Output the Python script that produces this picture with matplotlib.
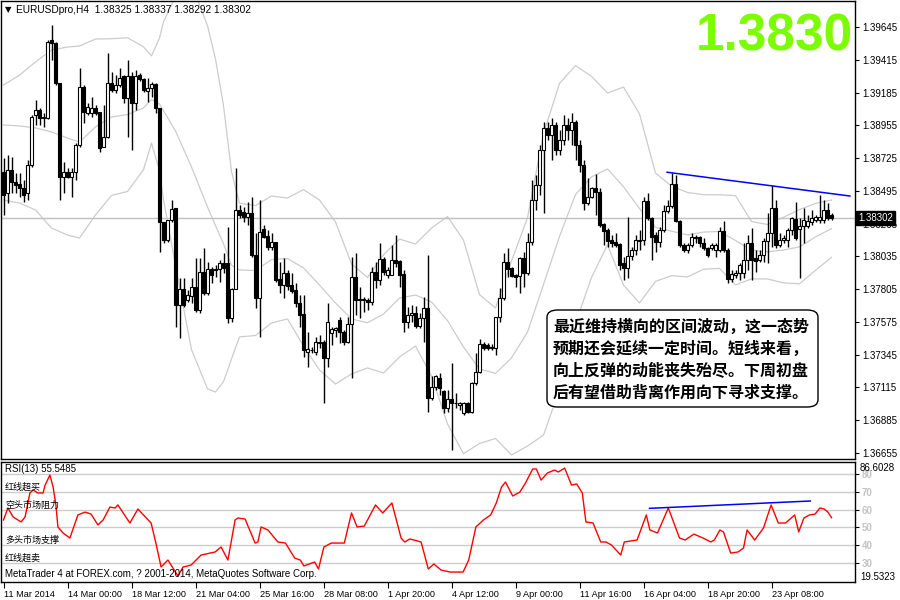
import numpy as np
import matplotlib.pyplot as plt
from matplotlib.patches import FancyBboxPatch
import matplotlib.transforms as mtransforms

# EURUSD H4 candles
opens = [1.38628, 1.38480, 1.38642, 1.38557, 1.38543, 1.38515, 1.38480, 1.38677,
         1.39028, 1.39063, 1.39007, 1.39007, 1.39554, 1.39533, 1.39252, 1.38593,
         1.38628, 1.38593, 1.38628, 1.38817, 1.39224, 1.39042, 1.39042, 1.39077,
         1.39049, 1.38803, 1.38873, 1.39252, 1.39203, 1.39238, 1.39302, 1.39147,
         1.39302, 1.39112, 1.39309, 1.39281, 1.39196, 1.39217, 1.39245, 1.39077,
         1.38277, 1.38150, 1.38291, 1.38375, 1.37694, 1.37806, 1.37729, 1.37757,
         1.37820, 1.37659, 1.37926, 1.37778, 1.37947, 1.37940, 1.37947, 1.37989,
         1.37989, 1.37603, 1.37806, 1.38361, 1.38347, 1.38312, 1.38340, 1.38045,
         1.37743, 1.38228, 1.38178, 1.38101, 1.38136, 1.37877, 1.37834, 1.37919,
         1.37834, 1.37799, 1.37708, 1.37631, 1.37364, 1.37378, 1.37364, 1.37427,
         1.37434, 1.37322, 1.37497, 1.37518, 1.37589, 1.37504, 1.37434, 1.37561,
         1.37891, 1.37736, 1.37729, 1.37729, 1.37715, 1.37926, 1.37869, 1.38017,
         1.37905, 1.37905, 1.38010, 1.38003, 1.37912, 1.37575, 1.37624, 1.37638,
         1.37547, 1.37603, 1.37673, 1.37041, 1.37118, 1.37182, 1.37090, 1.36971,
         1.37034, 1.37006, 1.36992, 1.36936, 1.37006, 1.36943, 1.37146, 1.37224,
         1.37420, 1.37413, 1.37399, 1.37392, 1.37610, 1.37743, 1.37996, 1.37954,
         1.37905, 1.37898, 1.38024, 1.37919, 1.38136, 1.38431, 1.38536, 1.38782,
         1.38937, 1.38887, 1.38958, 1.38782, 1.38852, 1.38958, 1.38922, 1.38979,
         1.38817, 1.38677, 1.38410, 1.38452, 1.38515, 1.38487, 1.38263, 1.38220,
         1.38150, 1.38136, 1.38122, 1.37989, 1.37954, 1.38038, 1.38080, 1.38143,
         1.38150, 1.38424, 1.38305, 1.38185, 1.38136, 1.38220, 1.38354, 1.38389,
         1.38543, 1.38284, 1.38115, 1.38080, 1.38115, 1.38164, 1.38171, 1.38129,
         1.38094, 1.38094, 1.38080, 1.38080, 1.38213, 1.38080, 1.37877, 1.37905,
         1.37919, 1.37919, 1.38010, 1.38129, 1.38024, 1.38010, 1.38045, 1.38143,
         1.38199, 1.38375, 1.38115, 1.38150, 1.38150, 1.38220, 1.38298, 1.38228,
         1.38249, 1.38249, 1.38277, 1.38291, 1.38291, 1.38291, 1.38361, 1.38325]
highs = [1.38726, 1.38747, 1.38733, 1.38621, 1.38621, 1.38571, 1.38712, 1.39028,
         1.39133, 1.39077, 1.39042, 1.39554, 1.39660, 1.39540, 1.39252, 1.38698,
         1.38656, 1.38656, 1.38831, 1.39358, 1.39238, 1.39112, 1.39154, 1.39098,
         1.39049, 1.39098, 1.39463, 1.39330, 1.39309, 1.39358, 1.39309, 1.39414,
         1.39330, 1.39344, 1.39323, 1.39288, 1.39288, 1.39259, 1.39252, 1.39077,
         1.38277, 1.38291, 1.38431, 1.38375, 1.37884, 1.37884, 1.37799, 1.37884,
         1.38024, 1.38024, 1.38094, 1.37996, 1.37961, 1.37975, 1.38010, 1.38059,
         1.38242, 1.37813, 1.38656, 1.38396, 1.38382, 1.38417, 1.38452, 1.38199,
         1.38431, 1.38256, 1.38220, 1.38199, 1.38136, 1.37996, 1.38024, 1.37940,
         1.37919, 1.37848, 1.37764, 1.37764, 1.37504, 1.37399, 1.37469, 1.37483,
         1.37448, 1.37708, 1.37540, 1.37540, 1.37610, 1.37518, 1.37610, 1.38031,
         1.38059, 1.37820, 1.37750, 1.37743, 1.37961, 1.37996, 1.38129, 1.38031,
         1.37961, 1.38115, 1.38185, 1.38010, 1.37940, 1.37680, 1.37694, 1.37687,
         1.37638, 1.37750, 1.38045, 1.37196, 1.37203, 1.37217, 1.37097, 1.37097,
         1.37287, 1.37076, 1.37013, 1.37013, 1.37013, 1.37153, 1.37357, 1.37455,
         1.37434, 1.37427, 1.37420, 1.37610, 1.37813, 1.38059, 1.38094, 1.37961,
         1.37912, 1.38031, 1.38066, 1.38199, 1.38571, 1.38607, 1.38817, 1.38979,
         1.38979, 1.39007, 1.38979, 1.38922, 1.39028, 1.39007, 1.39042, 1.38993,
         1.38852, 1.38712, 1.38586, 1.38522, 1.38614, 1.38515, 1.38270, 1.38235,
         1.38185, 1.38199, 1.38129, 1.38031, 1.38312, 1.38101, 1.38185, 1.38220,
         1.38452, 1.38480, 1.38312, 1.38206, 1.38242, 1.38396, 1.38431, 1.38621,
         1.38607, 1.38291, 1.38129, 1.38129, 1.38199, 1.38185, 1.38178, 1.38164,
         1.38101, 1.38129, 1.38129, 1.38242, 1.38284, 1.38094, 1.37940, 1.37940,
         1.37989, 1.38129, 1.38185, 1.38235, 1.38080, 1.38080, 1.38164, 1.38340,
         1.38536, 1.38431, 1.38199, 1.38185, 1.38235, 1.38312, 1.38417, 1.38305,
         1.38375, 1.38326, 1.38361, 1.38326, 1.38466, 1.38431, 1.38410, 1.38337]
lows = [1.38326, 1.38410, 1.38480, 1.38480, 1.38452, 1.38417, 1.38431, 1.38663,
        1.38958, 1.38958, 1.38944, 1.39000, 1.39414, 1.39238, 1.38431, 1.38480,
        1.38586, 1.38452, 1.38571, 1.38803, 1.38972, 1.39028, 1.39014, 1.39028,
        1.38768, 1.38803, 1.38866, 1.39189, 1.39182, 1.39224, 1.39112, 1.38873,
        1.38782, 1.39063, 1.39266, 1.39189, 1.39119, 1.39154, 1.39042, 1.38066,
        1.38129, 1.38136, 1.38277, 1.37540, 1.37462, 1.37680, 1.37715, 1.37708,
        1.37645, 1.37638, 1.37764, 1.37764, 1.37848, 1.37891, 1.37855, 1.37919,
        1.37568, 1.37575, 1.37806, 1.38305, 1.38277, 1.38256, 1.38031, 1.37673,
        1.37469, 1.38164, 1.38080, 1.38080, 1.37855, 1.37778, 1.37743, 1.37799,
        1.37778, 1.37680, 1.37540, 1.37329, 1.37259, 1.37357, 1.37343, 1.37392,
        1.37006, 1.37259, 1.37413, 1.37469, 1.37427, 1.37413, 1.37427, 1.37182,
        1.37624, 1.37603, 1.37645, 1.37659, 1.37694, 1.37813, 1.37834, 1.37905,
        1.37884, 1.37905, 1.37961, 1.37820, 1.37504, 1.37533, 1.37575, 1.37533,
        1.37533, 1.37434, 1.36943, 1.37027, 1.37097, 1.37062, 1.36936, 1.36943,
        1.36676, 1.36971, 1.36957, 1.36922, 1.36936, 1.36936, 1.37132, 1.37217,
        1.37378, 1.37378, 1.37378, 1.37343, 1.37575, 1.37729, 1.37891, 1.37891,
        1.37820, 1.37778, 1.37820, 1.37905, 1.38115, 1.38361, 1.38466, 1.38340,
        1.38852, 1.38712, 1.38747, 1.38747, 1.38817, 1.38852, 1.38817, 1.38712,
        1.38628, 1.38361, 1.38396, 1.38445, 1.38326, 1.38242, 1.38115, 1.38101,
        1.38101, 1.38101, 1.37940, 1.37869, 1.37884, 1.38010, 1.38045, 1.38080,
        1.38115, 1.38291, 1.38010, 1.38066, 1.38101, 1.38206, 1.38340, 1.38375,
        1.38277, 1.38101, 1.38066, 1.38059, 1.38101, 1.38129, 1.38101, 1.38080,
        1.38031, 1.38080, 1.38031, 1.38066, 1.38066, 1.37848, 1.37855, 1.37884,
        1.37869, 1.37884, 1.37940, 1.37869, 1.37926, 1.37996, 1.37996, 1.37989,
        1.38101, 1.38094, 1.38101, 1.38129, 1.38101, 1.38185, 1.38150, 1.37884,
        1.38129, 1.38235, 1.38256, 1.38277, 1.38270, 1.38270, 1.38291, 1.38292]
closes = [1.38466, 1.38642, 1.38557, 1.38536, 1.38515, 1.38466, 1.38677, 1.39014,
          1.39063, 1.39007, 1.39014, 1.39540, 1.39533, 1.39252, 1.38593, 1.38628,
          1.38593, 1.38628, 1.38817, 1.39224, 1.39049, 1.39084, 1.39077, 1.39042,
          1.38796, 1.38873, 1.39252, 1.39203, 1.39238, 1.39288, 1.39147, 1.39302,
          1.39112, 1.39302, 1.39281, 1.39203, 1.39217, 1.39245, 1.39077, 1.38277,
          1.38150, 1.38291, 1.38368, 1.37694, 1.37806, 1.37694, 1.37764, 1.37820,
          1.37659, 1.37926, 1.37778, 1.37947, 1.37905, 1.37947, 1.37989, 1.37954,
          1.37603, 1.37806, 1.38361, 1.38326, 1.38312, 1.38340, 1.38045, 1.37743,
          1.38206, 1.38171, 1.38101, 1.38136, 1.37869, 1.37834, 1.37919, 1.37827,
          1.37792, 1.37708, 1.37624, 1.37378, 1.37385, 1.37378, 1.37434, 1.37434,
          1.37322, 1.37575, 1.37526, 1.37533, 1.37504, 1.37434, 1.37561, 1.37891,
          1.37729, 1.37729, 1.37736, 1.37715, 1.37926, 1.37869, 1.38017, 1.37926,
          1.37940, 1.38010, 1.37989, 1.37905, 1.37575, 1.37624, 1.37638, 1.37547,
          1.37603, 1.37673, 1.37041, 1.37118, 1.37196, 1.37111, 1.36971, 1.37034,
          1.37006, 1.37006, 1.37006, 1.37006, 1.36943, 1.37146, 1.37224, 1.37420,
          1.37392, 1.37392, 1.37392, 1.37610, 1.37743, 1.37996, 1.37947, 1.37898,
          1.37891, 1.38024, 1.37919, 1.38136, 1.38431, 1.38536, 1.38782, 1.38937,
          1.38887, 1.38958, 1.38782, 1.38852, 1.38958, 1.38922, 1.38979, 1.38817,
          1.38677, 1.38410, 1.38452, 1.38515, 1.38487, 1.38256, 1.38213, 1.38143,
          1.38129, 1.38115, 1.37975, 1.37954, 1.38038, 1.38080, 1.38150, 1.38150,
          1.38424, 1.38305, 1.38171, 1.38136, 1.38220, 1.38354, 1.38389, 1.38543,
          1.38284, 1.38115, 1.38080, 1.38115, 1.38171, 1.38171, 1.38129, 1.38094,
          1.38045, 1.38115, 1.38115, 1.38213, 1.38080, 1.37877, 1.37912, 1.37919,
          1.37975, 1.38010, 1.38129, 1.38010, 1.38003, 1.38045, 1.38143, 1.38199,
          1.38375, 1.38115, 1.38150, 1.38164, 1.38220, 1.38305, 1.38164, 1.38249,
          1.38291, 1.38284, 1.38305, 1.38312, 1.38312, 1.38361, 1.38305, 1.38302]

# bollinger bands (20, 2), read at these bars
bb_pos = [0, 4, 8, 12, 16, 19, 23, 27, 31, 35, 37, 39, 40, 43, 47, 51, 53, 55, 57,
          59, 63, 67, 71, 75, 79, 83, 87, 91, 95, 99, 103, 107, 111, 115, 119, 123,
          127, 131, 135, 139, 143, 147, 151, 155, 159, 163, 167, 171, 175, 179, 183,
          187, 191, 195, 199, 203, 207]
bb_up = [1.39238, 1.39308, 1.39400, 1.39484, 1.39505, 1.39512, 1.39561, 1.39563,
         1.39570, 1.39506, 1.39443, 1.39568, 1.39682, 1.39860, 1.39947, 1.39655,
         1.39421, 1.39094, 1.38630, 1.38408, 1.38392, 1.38459, 1.38445, 1.38504,
         1.38431, 1.38277, 1.37982, 1.37887, 1.38047, 1.38157, 1.38122, 1.38234,
         1.38315, 1.38150, 1.37767, 1.37673, 1.38002, 1.38306, 1.38896, 1.39249,
         1.39375, 1.39299, 1.39182, 1.39224, 1.39035, 1.38620, 1.38529, 1.38484,
         1.38468, 1.38468, 1.38462, 1.38280, 1.38259, 1.38310, 1.38364, 1.38407,
         1.38431]
bb_mid = [1.38958, 1.38951, 1.38937, 1.38909, 1.38866, 1.38838, 1.38944, 1.39014,
          1.39031, 1.39077, 1.39137, 1.39105, 1.39058, 1.38915, 1.38663, 1.38382,
          1.38252, 1.38124, 1.37973, 1.37940, 1.37936, 1.38013, 1.38020, 1.37955,
          1.37834, 1.37708, 1.37596, 1.37569, 1.37631, 1.37743, 1.37764, 1.37715,
          1.37585, 1.37399, 1.37245, 1.37214, 1.37322, 1.37504, 1.37838, 1.38175,
          1.38470, 1.38593, 1.38649, 1.38524, 1.38371, 1.38239, 1.38212, 1.38186,
          1.38206, 1.38210, 1.38147, 1.38078, 1.38068, 1.38080, 1.38102, 1.38172,
          1.38230]
bb_low = [1.38431, 1.38410, 1.38361, 1.38234, 1.38185, 1.38164, 1.38326, 1.38463,
          1.38491, 1.38644, 1.38831, 1.38638, 1.38434, 1.37971, 1.37381, 1.37106,
          1.37083, 1.37156, 1.37315, 1.37470, 1.37480, 1.37568, 1.37596, 1.37406,
          1.37238, 1.37139, 1.37210, 1.37252, 1.37217, 1.37329, 1.37406, 1.37196,
          1.36859, 1.36650, 1.36722, 1.36757, 1.36641, 1.36704, 1.36781, 1.37101,
          1.37564, 1.37887, 1.38117, 1.37834, 1.37708, 1.37860, 1.37900, 1.37891,
          1.37945, 1.37951, 1.37835, 1.37877, 1.37877, 1.37849, 1.37843, 1.37937,
          1.38029]

trend_x = [165.9, 211.6]
trend_y = [1.38626, 1.38459]
last_price = 1.38302

# RSI(13) read at these bar positions
rsi_pos = [0, 1.1, 2.4, 4.4, 5.4, 6.6, 7.4, 8.6, 9.9, 10.4, 11.6, 12.4, 13.1, 13.6, 14.9,
           16.6, 18.6, 20.4, 21.9, 23.6, 24.9, 26.6, 27.9, 28.6, 31.6, 33.6, 36.9, 38.1,
           39.4, 41.1, 41.9, 43.6, 44.9, 46.9, 49.4, 52.9, 54.4, 56.1, 57.9, 58.6, 60.4,
           62.9, 63.6, 64.4, 66.1, 68.6, 70.5, 72.8, 74.2, 75.1, 77.8, 78.75, 80.1, 81.95,
           85.2, 87.0, 88.4, 90.2, 93.0, 94.8, 97.1, 99.4, 100.3, 101.6, 104.4, 106.2,
           107.6, 109.4, 111.7, 114.9, 116.3, 118.1, 120.0, 121.8, 123.2, 124.5, 125.5,
           127.3, 129.1, 130.5, 132.3, 133.2, 134.4, 136.0, 137.8, 138.7, 140.3, 142.0,
           143.3, 144.7, 145.6, 147.4, 149.3, 150.6, 152.0, 154.3, 155.2, 158.4, 160.7,
           161.6, 163.5, 166.2, 169.0, 170.4, 172.6, 174.9, 176.8, 177.7, 179.1, 180.0,
           181.8, 183.6, 185.0, 185.9, 187.8, 190.0, 191.9, 193.7, 195.5, 197.8, 198.8,
           200.1, 201.5, 202.9, 204.1, 205.2, 206.1, 207.0]
rsi_val = [54.2, 60.9, 55.9, 53.1, 55.9, 69.3, 71.0, 69.3, 69.3, 73.7, 79.3, 72.6, 62.6,
           50.3, 46.9, 44.1, 57.0, 58.6, 57.5, 51.4, 54.2, 61.4, 60.9, 62.6, 52.5, 60.3,
           52.5, 41.3, 27.9, 31.8, 29.0, 22.9, 27.9, 29.0, 34.6, 36.3, 39.1, 31.8, 54.2,
           55.3, 54.7, 41.3, 41.9, 50.3, 48.6, 41.9, 41.3, 32.9, 31.8, 28.5, 30.7, 26.8,
           39.1, 41.3, 41.3, 58.1, 50.3, 50.8, 62.6, 58.1, 63.7, 44.1, 41.9, 43.6, 41.9,
           26.8, 29.6, 26.2, 25.1, 25.1, 31.8, 50.3, 54.2, 57.0, 63.7, 72.6, 75.4, 67.6,
           69.8, 74.9, 82.7, 82.7, 76.5, 80.5, 82.1, 81.0, 83.2, 73.7, 74.3, 69.3, 53.1,
           52.5, 41.9, 41.9, 40.2, 34.6, 41.9, 43.0, 57.0, 48.6, 46.9, 60.9, 44.1, 43.0,
           46.3, 44.1, 41.9, 43.0, 48.6, 47.5, 35.7, 36.3, 38.5, 48.6, 43.0, 49.7, 62.6,
           52.5, 52.5, 57.0, 47.5, 55.3, 57.0, 57.5, 60.9, 60.3, 58.6, 55.5]
rsi_trend_x = [161.5, 201.7]
rsi_trend_y = [60.7, 64.8]
rsi_levels = [80, 70, 60, 50, 40, 30]

price_ticks = [1.39645, 1.39415, 1.39185, 1.38955, 1.38725, 1.38495, 1.38265, 1.38035,
               1.37805, 1.37575, 1.37345, 1.37115, 1.36885, 1.36655]
date_pos = [0, 16, 32, 48, 64, 80, 96, 112, 128, 144, 160, 176, 192]
date_labels = ['11 Mar 2014', '14 Mar 00:00', '18 Mar 12:00', '21 Mar 04:00', '25 Mar 16:00',
               '28 Mar 08:00', '1 Apr 20:00', '4 Apr 12:00', '9 Apr 00:00', '11 Apr 16:00',
               '16 Apr 04:00', '18 Apr 20:00', '23 Apr 08:00']

note = ['最近维持横向的区间波动，这一态势',
        '预期还会延续一定时间。短线来看，',
        '向上反弹的动能丧失殆尽。下周初盘',
        '后有望借助背离作用向下寻求支撑。']
cjk = ['Noto Sans CJK SC', 'DejaVu Sans']
small = 'Liberation Sans'

fig = plt.figure(figsize=(9, 6), dpi=100)


def box(x0, y0, x1, y1):
    return [x0 / 900, 1 - y1 / 600, (x1 - x0) / 900, (y1 - y0) / 600]


def px(x, y):
    return x / 900, 1 - y / 600


ax = fig.add_axes(box(1, 1, 855, 459))
ax2 = fig.add_axes(box(1, 462, 855, 582))

o = np.array(opens)
h = np.array(highs)
l = np.array(lows)
c = np.array(closes)
idx = np.arange(len(c))
bull = c >= o

for band in (bb_up, bb_mid, bb_low):
    ax.plot(bb_pos, band, color='#cccccc', lw=0.9, zorder=1)
ax.axhline(last_price, color='#c0c0c0', lw=1, zorder=2)

ax.vlines(idx, l, h, color='black', lw=1, zorder=3)
ax.bar(idx, np.maximum(np.abs(c - o), 0.000012), bottom=np.minimum(o, c), width=0.62,
       color=np.where(bull, 'white', 'black'), edgecolor='black', linewidth=0.8, zorder=4)
ax.plot(trend_x, trend_y, color='#0000ff', lw=1.1, zorder=5)

ax.set_xlim(-0.625, 212.875)
ax.set_ylim(1.36613, 1.39828)
ax.set_xticks([])
ax.yaxis.tick_right()
ax.set_yticks(price_ticks)
ax.set_yticklabels(['%.5f' % v for v in price_ticks], family=small)
ax.tick_params(axis='y', length=3, width=0.8, labelsize=7, pad=2)

tr = mtransforms.blended_transform_factory(ax.transAxes, ax.transData)
ax.text(1.004, last_price, '%.5f' % last_price, transform=tr, color='white', fontsize=7,
        family=small, va='center', ha='left', zorder=10,
        bbox=dict(boxstyle='square,pad=0.2', fc='black', ec='black'))

for a in (ax, ax2):
    for s in a.spines.values():
        s.set_color('black')
        s.set_linewidth(1)

fig.text(*px(5, 10), '\u25bc', fontsize=6, va='center', ha='left')
fig.text(*px(16, 10), 'EURUSDpro,H4  1.38325 1.38337 1.38292 1.38302', fontsize=7.3,
         family=small, va='center', ha='left')
fig.text(*px(853, 37), '1.3830', fontsize=37, fontweight='bold', family='Liberation Sans',
         color='#7cfc00', ha='right', va='center')

x0, y0 = px(547, 407)
fig.add_artist(FancyBboxPatch((x0, y0), 271 / 900, 97 / 600,
                              boxstyle='round,pad=0,rounding_size=0.012',
                              transform=fig.transFigure, fc='white', ec='black', lw=1))
for k, line in enumerate(note):
    fig.text(*px(553, 327 + 22 * k), line, family=cjk, fontsize=11.5, fontweight='bold',
             va='center', ha='left')

# RSI panel
for v in rsi_levels:
    ax2.axhline(v, color='#cccccc', lw=1, zorder=0)
ax2.plot(rsi_pos, rsi_val, color='red', lw=1, zorder=3)
ax2.plot(rsi_trend_x, rsi_trend_y, color='#0000ff', lw=1.1, zorder=4)
ax2.set_xlim(-0.625, 212.875)
ax2.set_ylim(19.5323, 86.6028)
ax2.yaxis.tick_right()
ax2.set_yticks(rsi_levels)
ax2.set_yticklabels([str(v) for v in rsi_levels], color='#c4c4c4', fontweight='bold',
                    family=small)
ax2.tick_params(axis='y', length=3, width=0.8, labelsize=7, pad=2)
ax2.set_xticks(date_pos)
ax2.set_xticklabels(date_labels, family=small)
ax2.tick_params(axis='x', length=4, width=0.8, labelsize=6.6, pad=2)
for t in ax2.get_xticklabels():
    t.set_ha('left')

fig.text(*px(860, 468), '86.6028', fontsize=7, family=small, va='center', ha='left')
fig.text(*px(860, 577), '19.5323', fontsize=7, family=small, va='center', ha='left')

fig.text(*px(5, 469), 'RSI(13) 55.5485', fontsize=7, family=small, va='center', ha='left')
fig.text(*px(5, 487), '红线超买', family=cjk, fontsize=6.5, va='center', ha='left')
fig.text(*px(5, 505), '空头市场阻力', family=cjk, fontsize=6.5, va='center', ha='left')
fig.text(*px(5, 540), '多头市场支撑', family=cjk, fontsize=6.5, va='center', ha='left')
fig.text(*px(5, 558), '红线超卖', family=cjk, fontsize=6.5, va='center', ha='left')
fig.text(*px(5, 574), 'MetaTrader 4 at FOREX.com, ? 2001-2014, MetaQuotes Software Corp.',
         fontsize=7, family=small, va='center', ha='left')

fig.savefig('out.png', dpi=100)
